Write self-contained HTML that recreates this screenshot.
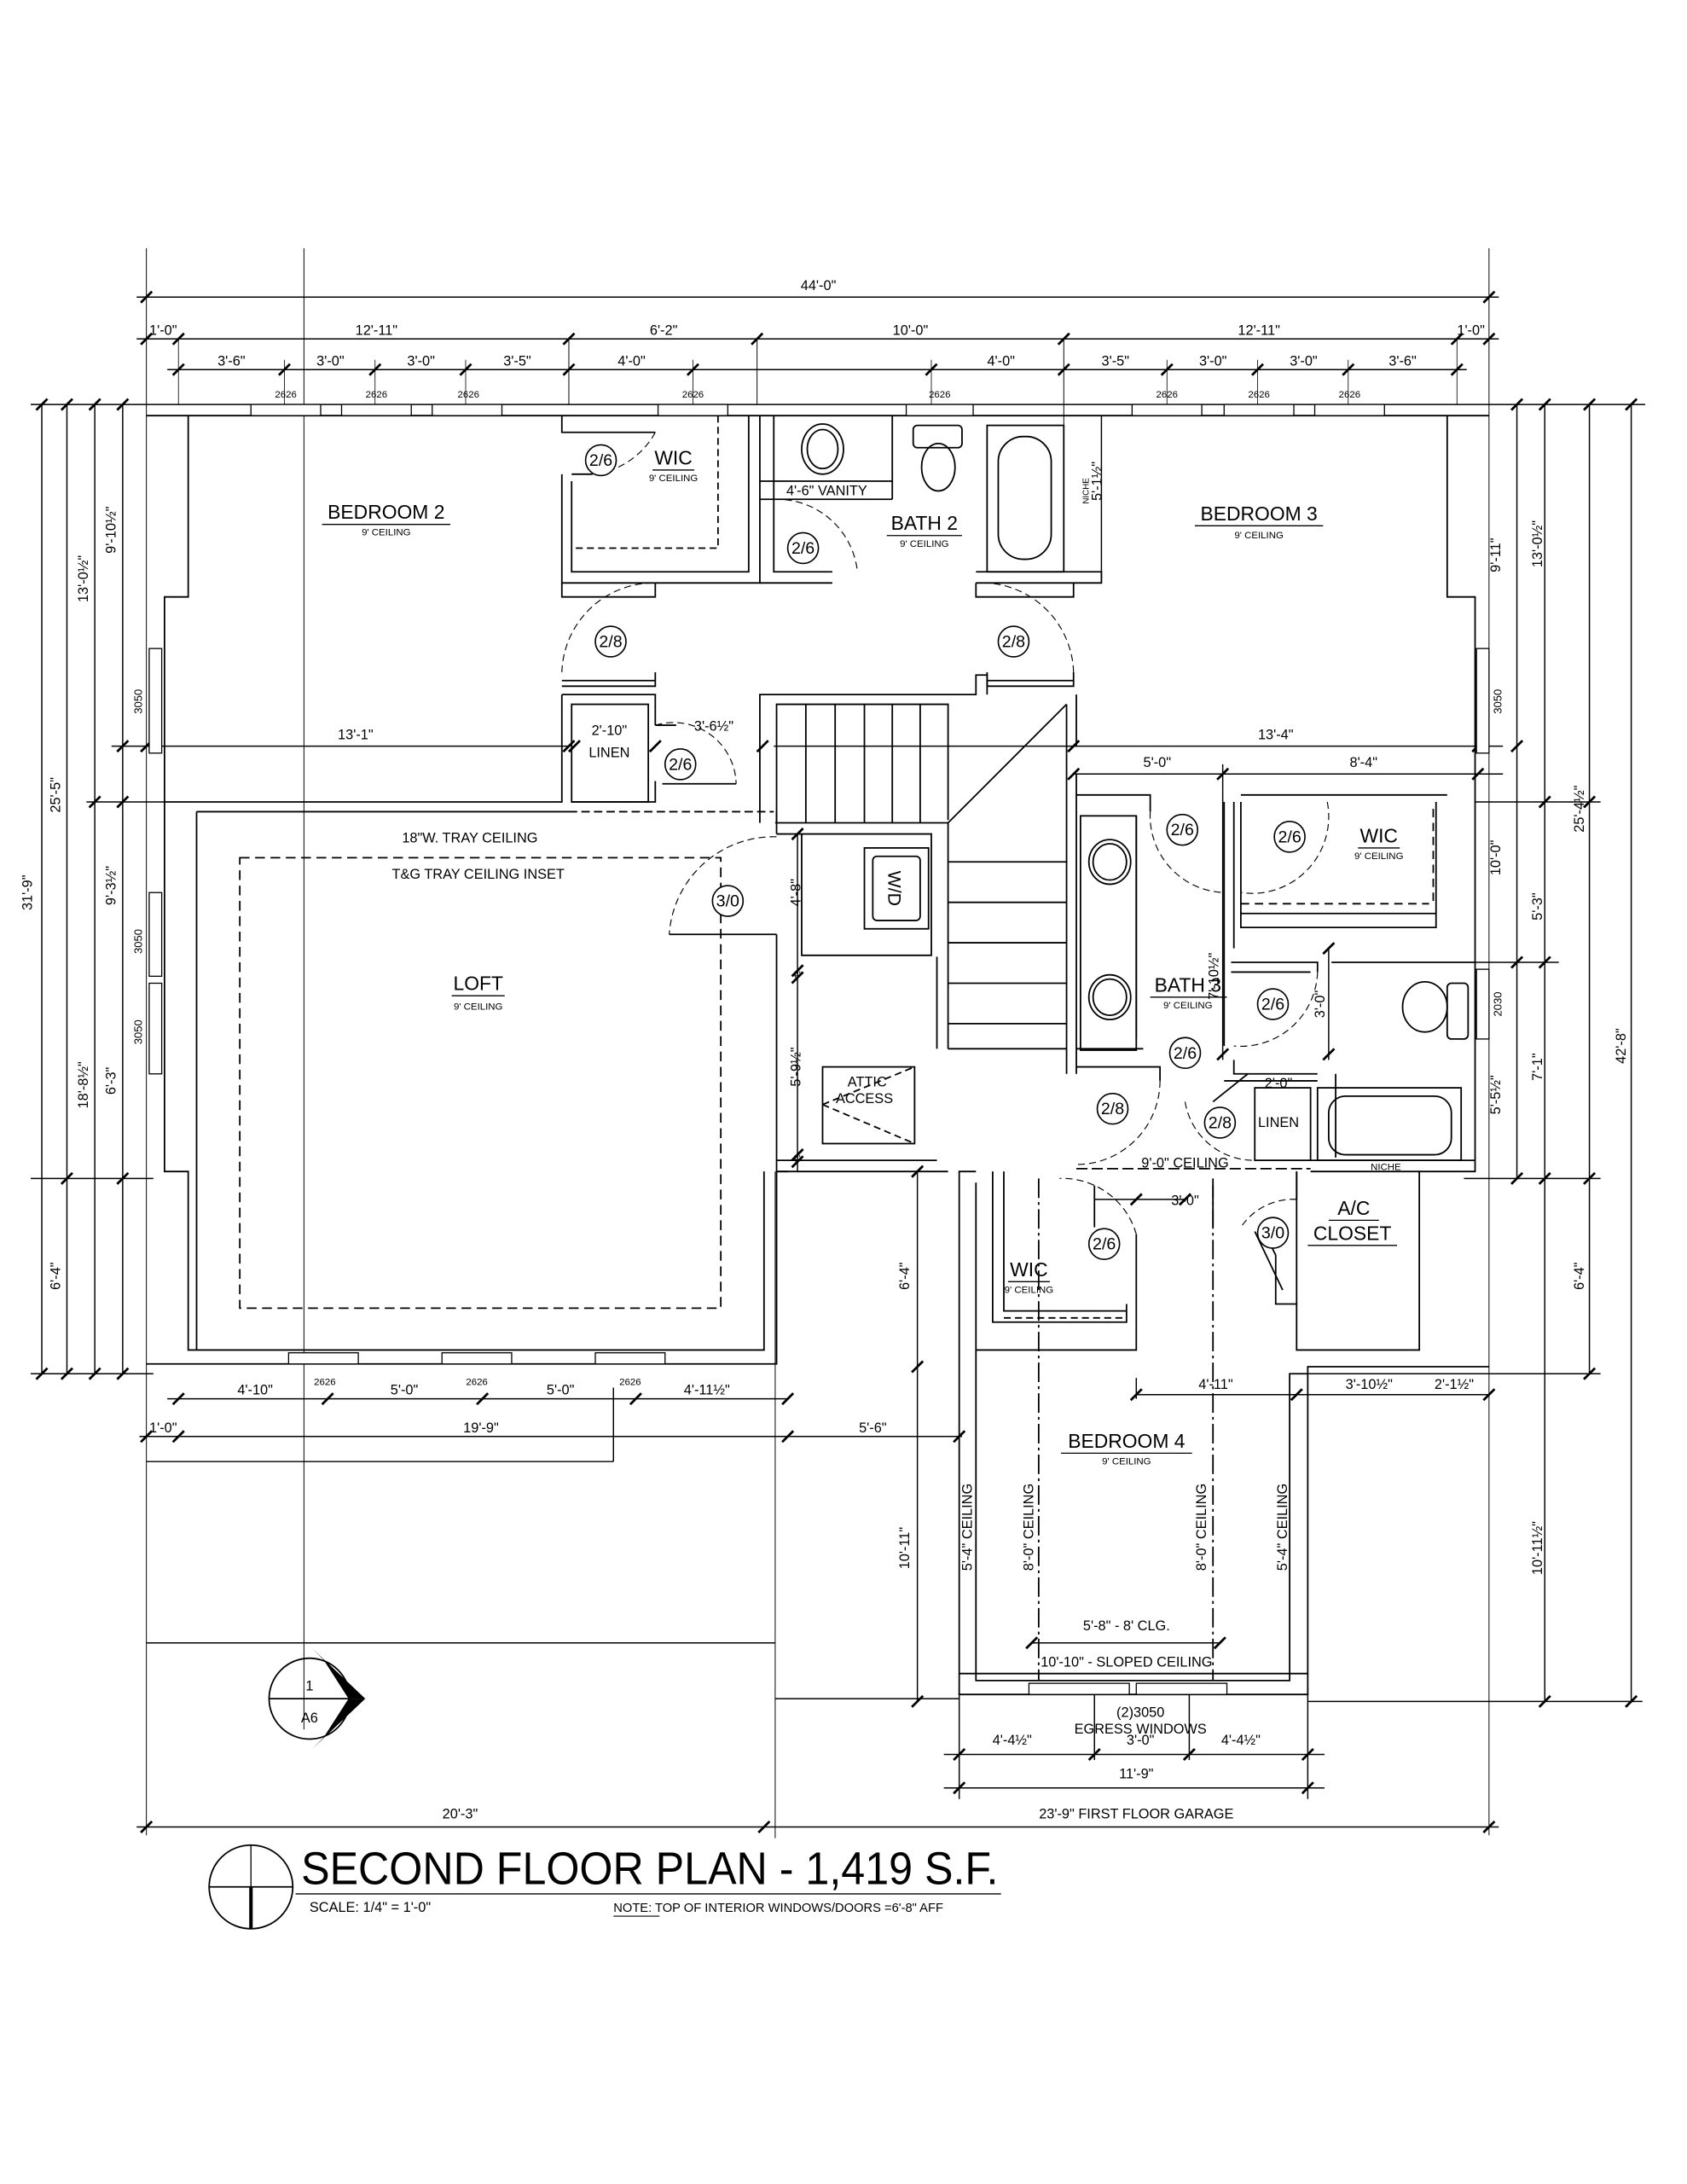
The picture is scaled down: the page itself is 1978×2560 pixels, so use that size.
<!DOCTYPE html>
<html><head><meta charset="utf-8"><style>
html,body{margin:0;padding:0;background:#fff}
svg{display:block}
text{font-family:"Liberation Sans",sans-serif;fill:#000}
</style></head><body>
<svg width="1978" height="2560" viewBox="0 0 1210 1566" xmlns="http://www.w3.org/2000/svg">
<rect width="1210" height="1566" fill="#fff"/>
<!-- extension lines -->
<g stroke="#000" stroke-width="0.6" fill="none">
<line x1="105" y1="178" x2="105" y2="1316"/>
<line x1="1068" y1="178" x2="1068" y2="1316"/>
<line x1="218" y1="178" x2="218" y2="1240"/>
<line x1="556" y1="840" x2="556" y2="1318"/>
<line x1="543" y1="243" x2="543" y2="290"/>
<line x1="763" y1="243" x2="763" y2="410"/>
<line x1="408" y1="243" x2="408" y2="290"/>
<g stroke-width="0.5"><line x1="204" y1="258" x2="204" y2="290"/><line x1="269" y1="258" x2="269" y2="290"/><line x1="334" y1="258" x2="334" y2="290"/><line x1="497" y1="258" x2="497" y2="290"/><line x1="668" y1="258" x2="668" y2="290"/><line x1="837" y1="258" x2="837" y2="290"/><line x1="902" y1="258" x2="902" y2="290"/><line x1="967" y1="258" x2="967" y2="290"/><line x1="128" y1="243" x2="128" y2="290"/><line x1="1045" y1="243" x2="1045" y2="290"/></g>
</g>
<!-- dimension lines -->
<g stroke="#000" stroke-width="0.9" fill="none">
<line x1="98" y1="213" x2="1075" y2="213"/>
<line x1="98" y1="243" x2="1075" y2="243"/>
<line x1="120" y1="265" x2="1052" y2="265"/>
<line x1="22" y1="290" x2="1180" y2="290"/>
<line x1="30" y1="290" x2="30" y2="985"/>
<line x1="48" y1="290" x2="48" y2="985"/>
<line x1="68" y1="290" x2="68" y2="985"/>
<line x1="88" y1="290" x2="88" y2="985"/>
<line x1="22" y1="985" x2="110" y2="985"/>
<line x1="22" y1="845" x2="110" y2="845"/>
<line x1="62" y1="575" x2="118" y2="575"/>
<line x1="80" y1="535" x2="408" y2="535"/>
<line x1="1088" y1="290" x2="1088" y2="845"/>
<line x1="1108" y1="290" x2="1108" y2="1220"/>
<line x1="1140" y1="290" x2="1140" y2="985"/>
<line x1="1170" y1="290" x2="1170" y2="1220"/>
<line x1="1058" y1="575" x2="1148" y2="575"/>
<line x1="1058" y1="690" x2="1118" y2="690"/>
<line x1="1050" y1="845" x2="1148" y2="845"/>
<line x1="930" y1="985" x2="1148" y2="985"/>
<line x1="938" y1="1220" x2="1178" y2="1220"/>
<line x1="555" y1="535" x2="1078" y2="535"/>
<line x1="770" y1="555" x2="1078" y2="555"/>
<line x1="877" y1="548" x2="877" y2="760"/>
<line x1="953" y1="680" x2="953" y2="760"/>
<line x1="572" y1="598" x2="572" y2="840"/>
<line x1="120" y1="1003" x2="565" y2="1003"/>
<line x1="100" y1="1030" x2="690" y2="1030"/>
<line x1="105" y1="1048" x2="440" y2="1048"/><line x1="440" y1="995" x2="440" y2="1048"/>
<line x1="105" y1="1178" x2="556" y2="1178"/>
<line x1="556" y1="1218" x2="688" y2="1218"/>
<line x1="658" y1="840" x2="658" y2="1220"/>
<line x1="815" y1="1000" x2="1068" y2="1000"/>
<line x1="815" y1="988" x2="815" y2="1003"/>
<line x1="740" y1="1178" x2="875" y2="1178"/>
<line x1="677" y1="1258" x2="950" y2="1258"/>
<line x1="677" y1="1282" x2="950" y2="1282"/>
<line x1="98" y1="1310" x2="1075" y2="1310"/>
<line x1="688" y1="1210" x2="688" y2="1290"/><line x1="938" y1="1210" x2="938" y2="1290"/>
<line x1="785" y1="1210" x2="785" y2="1262"/><line x1="853" y1="1210" x2="853" y2="1262"/>
<line x1="785" y1="860" x2="850" y2="860"/>
<line x1="763" y1="410" x2="790" y2="410"/>
<line x1="790" y1="298" x2="790" y2="415"/>
</g>
<!-- ticks -->
<g stroke="#000" stroke-width="1.7" fill="none">
<path d="M101 217L109 209M1064 217L1072 209M101 247L109 239M124 247L132 239M404 247L412 239M539 247L547 239M759 247L767 239M1041 247L1049 239M1064 247L1072 239M124 269L132 261M200 269L208 261M265 269L273 261M330 269L338 261M404 269L412 261M493 269L501 261M664 269L672 261M759 269L767 261M833 269L841 261M898 269L906 261M963 269L971 261M1041 269L1049 261"/>
<path d="M26 294L34 286M44 294L52 286M64 294L72 286M84 294L92 286M26 989L34 981M44 989L52 981M64 989L72 981M84 989L92 981M44 849L52 841M84 849L92 841M64 579L72 571M84 539L92 531M84 579L92 571"/>
<path d="M1084 294L1092 286M1104 294L1112 286M1136 294L1144 286M1166 294L1174 286M1084 539L1092 531M1104 579L1112 571M1136 579L1144 571M1084 694L1092 686M1104 694L1112 686M1084 849L1092 841M1104 849L1112 841M1136 849L1144 841M1136 989L1144 981M1104 1224L1112 1216M1166 1224L1174 1216"/>
<path d="M101 539L109 531M404 539L412 531M408 539L416 531M466 539L474 531M543 539L551 531M766 539L774 531M1056 539L1064 531M766 559L774 551M873 559L881 551M1056 559L1064 551M568 602L576 594M568 700L576 692M568 705L576 697M568 832L576 824M568 837L576 829M873 760L881 752M949 684L957 676M949 760L957 752"/>
<path d="M124 1007L132 999M231 1007L239 999M342 1007L350 999M452 1007L460 999M561 1007L569 999M101 1034L109 1026M124 1034L132 1026M561 1034L569 1026M684 1034L692 1026M654 844L662 836M654 984L662 976M654 1224L662 1216M811 1004L819 996M926 1004L934 996M1064 1004L1072 996M736 1182L744 1174M871 1182L879 1174M684 1262L692 1254M781 1262L789 1254M849 1262L857 1254M934 1262L942 1254M684 1286L692 1278M934 1286L942 1278M101 1314L109 1306M544 1314L552 1306M1064 1314L1072 1306M811 864L819 856M846 864L854 856"/>
</g>
<!-- walls -->
<g stroke="#000" stroke-width="1.1" fill="none">
<line x1="105" y1="298" x2="1068" y2="298"/>
<polyline points="135,298 135,428 118,428 118,840 135,840 135,968 548,968 548,840"/>
<polyline points="105,978 557,978 557,840 565,840"/>
<polyline points="1038,298 1038,428 1058,428 1058,840 1018,840 1018,968 930,968 930,840"/>
<polyline points="1068,980 938,980 938,1215 688,1215 688,840 700,840"/>
<polyline points="700,848 700,1205 925,1205 925,985 938,985"/>
<!-- bedroom 2 wic -->
<polyline points="403,298 403,310 470,310"/>
<polyline points="403,340 403,418 545,418 545,298"/>
<polyline points="410,345 410,410 537,410 537,298"/>
<line x1="413" y1="393" x2="515" y2="393" stroke-dasharray="5,3"/>
<line x1="515" y1="298" x2="515" y2="393" stroke-dasharray="5,3"/>
<line x1="410" y1="340" x2="425" y2="340"/>
<!-- bath2 -->
<polyline points="555,298 555,410 597,410"/>
<line x1="545" y1="345" x2="640" y2="345"/><line x1="545" y1="358" x2="640" y2="358"/><line x1="640" y1="298" x2="640" y2="358"/>
<polyline points="700,410 790,410 790,418 700,418"/>
<line x1="545" y1="418" x2="597" y2="418"/>
<rect x="708" y="305" width="55" height="105"/>
<rect x="716" y="313" width="38" height="88" rx="18"/>
<ellipse cx="590" cy="322" rx="15" ry="18"/><ellipse cx="590" cy="322" rx="11" ry="14"/>
<rect x="655" y="305" width="35" height="16" rx="3"/><ellipse cx="673" cy="335" rx="12" ry="17"/>
<!-- hall doors stubs -->
<polyline points="403,418 403,428 470,428 470,418"/>
<polyline points="700,418 700,428 770,428 770,418"/>
<polyline points="403,492 470,492 470,482"/><line x1="403" y1="488" x2="470" y2="488"/>
<polyline points="770,482 770,492 708,492 708,482"/><line x1="708" y1="488" x2="770" y2="488"/>
<!-- linen -->
<polyline points="403,498 470,498 470,520"/>
<polyline points="403,498 403,575 118,575"/>
<rect x="410" y="505" width="55" height="70"/>
<polyline points="470,560 470,575 410,575"/><line x1="475" y1="562" x2="528" y2="562"/><line x1="470" y1="520" x2="485" y2="520"/>
<!-- loft -->
<line x1="141" y1="582" x2="141" y2="968"/>
<line x1="141" y1="582" x2="408" y2="582"/>
<line x1="408" y1="582" x2="555" y2="582" stroke-dasharray="6,3"/>
<rect x="172" y="615" width="345" height="323" stroke-dasharray="7,4"/>
<line x1="557" y1="670" x2="557" y2="840"/>
<line x1="480" y1="670" x2="557" y2="670"/>
<line x1="557" y1="582" x2="557" y2="598"/>
<!-- stairs -->
<polyline points="545,590 545,498 700,498 700,484 708,484 708,498"/>
<polyline points="557,590 557,505 680,505 680,588"/>
<line x1="556" y1="590" x2="680" y2="590"/>
<line x1="578" y1="505" x2="578" y2="590"/><line x1="599" y1="505" x2="599" y2="590"/><line x1="620" y1="505" x2="620" y2="590"/><line x1="640" y1="505" x2="640" y2="590"/><line x1="660" y1="505" x2="660" y2="590"/>
<line x1="680" y1="590" x2="765" y2="505"/>
<polyline points="765,505 765,770"/>
<polyline points="772,498 772,535"/><line x1="772" y1="555" x2="772" y2="770"/>
<line x1="680" y1="590" x2="680" y2="752"/>
<line x1="680" y1="618" x2="765" y2="618"/><line x1="680" y1="647" x2="765" y2="647"/><line x1="680" y1="676" x2="765" y2="676"/><line x1="680" y1="705" x2="765" y2="705"/><line x1="680" y1="734" x2="765" y2="734"/>
<line x1="680" y1="752" x2="765" y2="752"/>
<polyline points="672,686 672,752"/>
<!-- W/D -->
<polyline points="557,598 575,598 575,685 668,685 668,598 557,598"/>
<rect x="620" y="608" width="46" height="58"/><rect x="626" y="614" width="34" height="46" rx="3"/>
<rect x="590" y="765" width="66" height="55"/>
<path d="M590 792L656 765M590 792L656 820" stroke-dasharray="5,3"/>
<line x1="557" y1="840" x2="680" y2="840"/>
<line x1="557" y1="832" x2="672" y2="832"/>
<!-- bath 3 -->
<polyline points="772,570 825,570 825,582"/>
<rect x="775" y="585" width="40" height="168"/><line x1="815" y1="585" x2="815" y2="745"/>
<ellipse cx="796" cy="618" rx="15" ry="16"/><ellipse cx="796" cy="618" rx="12" ry="13"/>
<ellipse cx="796" cy="715" rx="15" ry="16"/><ellipse cx="796" cy="715" rx="12" ry="13"/>
<polyline points="772,765 832,765 832,775"/><line x1="772" y1="752" x2="820" y2="752"/>
<polyline points="878,575 878,750"/><polyline points="885,575 885,680"/>
<polyline points="890,570 1038,570"/><polyline points="890,575 890,665 1030,665 1030,575"/>
<line x1="890" y1="655" x2="1030" y2="655"/>
<line x1="890" y1="648" x2="1025" y2="648" stroke-dasharray="6,4"/>
<line x1="1028" y1="580" x2="1028" y2="650" stroke-dasharray="6,4"/>
<polyline points="883,690 945,690 945,697"/><polyline points="883,697 940,697"/>
<polyline points="885,760 885,770 945,770"/><line x1="878" y1="775" x2="945" y2="775"/>
<line x1="955" y1="690" x2="1058" y2="690"/>
<line x1="958" y1="770" x2="958" y2="830"/>
<rect x="900" y="780" width="40" height="52"/>
<rect x="945" y="780" width="103" height="52"/><rect x="953" y="786" width="88" height="42" rx="12"/>
<ellipse cx="1022" cy="722" rx="16" ry="18"/><rect x="1038" y="705" width="15" height="40" rx="3"/>
<line x1="940" y1="832" x2="1058" y2="832"/><line x1="940" y1="840" x2="1018" y2="840"/>
<line x1="772" y1="838" x2="940" y2="838" stroke-dasharray="8,3"/>
<line x1="870" y1="790" x2="895" y2="770"/>
<!-- A/C & bedroom 4 wic -->
<line x1="930" y1="840" x2="930" y2="860"/>
<polyline points="905,880 915,900 915,935 930,935"/><line x1="900" y1="883" x2="920" y2="925"/>
<polyline points="712,840 712,948 808,948 808,935"/>
<polyline points="720,840 720,940 808,940"/>
<polyline points="815,885 815,968 700,968"/>
<line x1="720" y1="945" x2="808" y2="945" stroke-dasharray="5,3"/>
<line x1="745" y1="845" x2="745" y2="1205" stroke-dasharray="14,3,2,3"/>
<line x1="870" y1="845" x2="870" y2="1205" stroke-dasharray="14,3,2,3"/>
<line x1="688" y1="1200" x2="938" y2="1200"/>
<line x1="785" y1="850" x2="785" y2="880"/><line x1="870" y1="850" x2="870" y2="880"/>
</g>
<!-- windows -->
<g stroke="#000" stroke-width="0.8" fill="#fff">
<rect x="180" y="290" width="50" height="8"/><rect x="245" y="290" width="50" height="8"/><rect x="310" y="290" width="50" height="8"/><rect x="472" y="290" width="50" height="8"/><rect x="650" y="290" width="48" height="8"/><rect x="812" y="290" width="50" height="8"/><rect x="878" y="290" width="50" height="8"/><rect x="943" y="290" width="50" height="8"/>
<rect x="107" y="465" width="9" height="75"/><rect x="107" y="640" width="9" height="60"/><rect x="107" y="705" width="9" height="65"/>
<rect x="1059" y="465" width="9" height="75"/><rect x="1059" y="695" width="9" height="50"/>
<rect x="207" y="970" width="50" height="8"/><rect x="317" y="970" width="50" height="8"/><rect x="427" y="970" width="50" height="8"/>
<rect x="738" y="1207" width="72" height="8"/><rect x="815" y="1207" width="65" height="8"/>
</g>
<!-- door swings -->
<g stroke="#000" stroke-width="0.7" fill="none" stroke-dasharray="5,3">
<path d="M470 310A58 58 0 0 1 425 340"/>
<path d="M555 358A58 58 0 0 1 615 410"/>
<path d="M403 482A66 66 0 0 1 470 418"/>
<path d="M770 482A66 66 0 0 0 700 418"/>
<path d="M470 520A45 45 0 0 1 528 562"/>
<path d="M557 600A75 75 0 0 0 480 670"/>
<path d="M825 582A55 55 0 0 0 878 640"/>
<path d="M952 575A55 55 0 0 1 890 640"/>
<path d="M945 697A55 55 0 0 1 885 750"/>
<path d="M832 775A60 60 0 0 1 772 835"/>
<path d="M850 790A50 50 0 0 0 900 832"/>
<path d="M815 885A55 55 0 0 0 760 845"/>
<path d="M930 860A45 45 0 0 0 890 880"/>
</g>
<!-- tags -->
<g stroke="#000" stroke-width="1" fill="#fff">
<circle cx="431" cy="330" r="11"/><circle cx="576" cy="393" r="11"/><circle cx="438" cy="460" r="11"/><circle cx="727" cy="460" r="11"/><circle cx="488" cy="548" r="11"/><circle cx="522" cy="646" r="11"/><circle cx="848" cy="595" r="11"/><circle cx="925" cy="600" r="11"/><circle cx="913" cy="720" r="11"/><circle cx="850" cy="755" r="11"/><circle cx="875" cy="805" r="11"/><circle cx="798" cy="795" r="11"/><circle cx="792" cy="892" r="11"/><circle cx="913" cy="884" r="11"/>
</g>
<g font-size="12" text-anchor="middle">
<text x="431" y="334">2/6</text><text x="576" y="397">2/6</text><text x="438" y="464">2/8</text><text x="727" y="464">2/8</text><text x="488" y="552">2/6</text><text x="522" y="650">3/0</text><text x="848" y="599">2/6</text><text x="925" y="604">2/6</text><text x="913" y="724">2/6</text><text x="850" y="759">2/6</text><text x="875" y="809">2/8</text><text x="798" y="799">2/8</text><text x="792" y="896">2/6</text><text x="913" y="888">3/0</text>
</g>
<!-- room labels -->
<g text-anchor="middle">
<g font-size="14"><text x="277" y="372">BEDROOM 2</text><text x="903" y="373">BEDROOM 3</text><text x="663" y="380">BATH 2</text><text x="483" y="333">WIC</text><text x="989" y="604">WIC</text><text x="852" y="711">BATH 3</text><text x="343" y="710">LOFT</text><text x="738" y="915">WIC</text><text x="971" y="871">A/C</text><text x="970" y="889">CLOSET</text><text x="808" y="1038">BEDROOM 4</text></g>
<g stroke="#000" stroke-width="0.8"><line x1="231" y1="376" x2="323" y2="376"/><line x1="857" y1="377" x2="949" y2="377"/><line x1="636" y1="384" x2="690" y2="384"/><line x1="468" y1="337" x2="498" y2="337"/><line x1="974" y1="608" x2="1004" y2="608"/><line x1="825" y1="715" x2="880" y2="715"/><line x1="324" y1="714" x2="362" y2="714"/><line x1="723" y1="919" x2="753" y2="919"/><line x1="953" y1="875" x2="989" y2="875"/><line x1="938" y1="893" x2="1002" y2="893"/><line x1="761" y1="1042" x2="855" y2="1042"/></g>
<g font-size="7"><text x="277" y="384">9' CEILING</text><text x="903" y="386">9' CEILING</text><text x="663" y="392">9' CEILING</text><text x="483" y="345">9' CEILING</text><text x="989" y="616">9' CEILING</text><text x="852" y="723">9' CEILING</text><text x="343" y="724">9' CEILING</text><text x="738" y="927">9' CEILING</text><text x="808" y="1050">9' CEILING</text><text x="994" y="839">NICHE</text></g>
<g font-size="10"><text x="337" y="604">18"W.  TRAY CEILING</text><text x="343" y="630">T&amp;G TRAY CEILING  INSET</text><text x="593" y="355">4'-6" VANITY</text><text x="437" y="527">2'-10"</text><text x="437" y="543">LINEN</text><text x="512" y="524">3'-6½"</text><text x="917" y="780">2'-0"</text><text x="917" y="808">LINEN</text><text x="850" y="837">9'-0" CEILING</text><text x="850" y="864">3'-0"</text><text x="622" y="779">ATTIC</text><text x="620" y="791">ACCESS</text>
<text x="808" y="1169">5'-8" - 8' CLG.</text><text x="808" y="1195">10'-10" - SLOPED CEILING</text><text x="818" y="1231">(2)3050</text><text x="818" y="1243">EGRESS WINDOWS</text><text x="726" y="1251">4'-4½"</text><text x="818" y="1251">3'-0"</text><text x="890" y="1251">4'-4½"</text><text x="815" y="1275">11'-9"</text><text x="330" y="1304">20'-3"</text><text x="815" y="1304">23'-9" FIRST FLOOR GARAGE</text>
<text x="587" y="208">44'-0"</text>
<text x="117" y="240">1'-0"</text><text x="270" y="240">12'-11"</text><text x="476" y="240">6'-2"</text><text x="653" y="240">10'-0"</text><text x="903" y="240">12'-11"</text><text x="1055" y="240">1'-0"</text>
<text x="166" y="262">3'-6"</text><text x="237" y="262">3'-0"</text><text x="302" y="262">3'-0"</text><text x="371" y="262">3'-5"</text><text x="453" y="262">4'-0"</text><text x="718" y="262">4'-0"</text><text x="800" y="262">3'-5"</text><text x="870" y="262">3'-0"</text><text x="935" y="262">3'-0"</text><text x="1006" y="262">3'-6"</text>
<text x="255" y="530">13'-1"</text><text x="915" y="530">13'-4"</text><text x="830" y="550">5'-0"</text><text x="978" y="550">8'-4"</text>
<text x="183" y="1000">4'-10"</text><text x="290" y="1000">5'-0"</text><text x="402" y="1000">5'-0"</text><text x="507" y="1000">4'-11½"</text><text x="117" y="1027">1'-0"</text><text x="345" y="1027">19'-9"</text><text x="626" y="1027">5'-6"</text>
<text x="872" y="996">4'-11"</text><text x="982" y="996">3'-10½"</text><text x="1043" y="996">2'-1½"</text>
</g>
<g font-size="7"><text x="205" y="285">2626</text><text x="270" y="285">2626</text><text x="336" y="285">2626</text><text x="497" y="285">2626</text><text x="674" y="285">2626</text><text x="837" y="285">2626</text><text x="903" y="285">2626</text><text x="968" y="285">2626</text><text x="233" y="993">2626</text><text x="342" y="993">2626</text><text x="452" y="993">2626</text></g>
</g>
<!-- rotated texts -->
<g font-size="10" text-anchor="middle">
<text transform="translate(23,640) rotate(-90)">31'-9"</text>
<text transform="translate(43,570) rotate(-90)">25'-5"</text>
<text transform="translate(43,915) rotate(-90)">6'-4"</text>
<text transform="translate(63,415) rotate(-90)">13'-0½"</text>
<text transform="translate(63,778) rotate(-90)">18'-8½"</text>
<text transform="translate(83,380) rotate(-90)">9'-10½"</text>
<text transform="translate(83,635) rotate(-90)">9'-3½"</text>
<text transform="translate(83,775) rotate(-90)">6'-3"</text>
<text transform="translate(1076,398) rotate(-90)">9'-11"</text>
<text transform="translate(1076,615) rotate(-90)">10'-0"</text>
<text transform="translate(1076,785) rotate(-90)">5'-5½"</text>
<text transform="translate(1106,390) rotate(-90)">13'-0½"</text>
<text transform="translate(1106,650) rotate(-90)">5'-3"</text>
<text transform="translate(1106,765) rotate(-90)">7'-1"</text>
<text transform="translate(1106,1110) rotate(-90)">10'-11½"</text>
<text transform="translate(1136,580) rotate(-90)">25'-4½"</text>
<text transform="translate(1136,915) rotate(-90)">6'-4"</text>
<text transform="translate(1166,750) rotate(-90)">42'-8"</text>
<text transform="translate(652,915) rotate(-90)">6'-4"</text>
<text transform="translate(652,1110) rotate(-90)">10'-11"</text>
<text transform="translate(574,640) rotate(-90)">4'-8"</text>
<text transform="translate(574,765) rotate(-90)">5'-9½"</text>
<text transform="translate(874,700) rotate(-90)">7'-10½"</text>
<text transform="translate(950,720) rotate(-90)">3'-0"</text>
<text transform="translate(790,345) rotate(-90)">5'-1½"</text>
<text transform="translate(697,1095) rotate(-90)">5'-4" CEILING</text>
<text transform="translate(741,1095) rotate(-90)">8'-0" CEILING</text>
<text transform="translate(865,1095) rotate(-90)">8'-0" CEILING</text>
<text transform="translate(923,1095) rotate(-90)">5'-4" CEILING</text>
<text transform="translate(637,637) rotate(90)" font-size="13">W/D</text>
</g>
<g font-size="8" text-anchor="middle">
<text transform="translate(102,503) rotate(-90)">3050</text><text transform="translate(102,675) rotate(-90)">3050</text><text transform="translate(102,740) rotate(-90)">3050</text>
<text transform="translate(1077,503) rotate(-90)">3050</text><text transform="translate(1077,720) rotate(-90)">2030</text>
<text transform="translate(781,352) rotate(-90)" font-size="6">NICHE</text>
<text x="571" y="701" font-size="7">4"</text><text x="571" y="833" font-size="7">4"</text>
</g>
<!-- section marker -->
<g stroke="#000" fill="none" stroke-width="1.1">
<circle cx="222" cy="1218" r="29"/>
<line x1="193" y1="1218" x2="251" y2="1218"/>
</g>
<path d="M224 1182L262 1218L250 1218L232 1190Z" fill="#000"/>
<path d="M224 1254L262 1218L250 1218L232 1246Z" fill="#000"/>
<text x="222" y="1212" font-size="10" text-anchor="middle">1</text>
<text x="222" y="1235" font-size="10" text-anchor="middle">A6</text>
<!-- title -->
<g stroke="#000" fill="none">
<circle cx="180" cy="1353" r="30" stroke-width="1.1"/>
<line x1="180" y1="1323" x2="180" y2="1383" stroke-width="0.8"/>
<line x1="150" y1="1353" x2="210" y2="1353" stroke-width="1.1"/>
<line x1="180" y1="1353" x2="180" y2="1383" stroke-width="2.5"/>
<line x1="212" y1="1358" x2="718" y2="1358" stroke-width="0.8"/>
<line x1="440" y1="1374" x2="473" y2="1374" stroke-width="0.7"/>
</g>
<text x="216" y="1351" font-size="33" textLength="500" lengthAdjust="spacingAndGlyphs">SECOND FLOOR PLAN - 1,419 S.F.</text>
<text x="222" y="1371" font-size="10">SCALE: 1/4" = 1'-0"</text>
<text x="440" y="1371" font-size="9">NOTE:  TOP OF INTERIOR  WINDOWS/DOORS =6'-8" AFF</text>
</svg>
</body></html>
